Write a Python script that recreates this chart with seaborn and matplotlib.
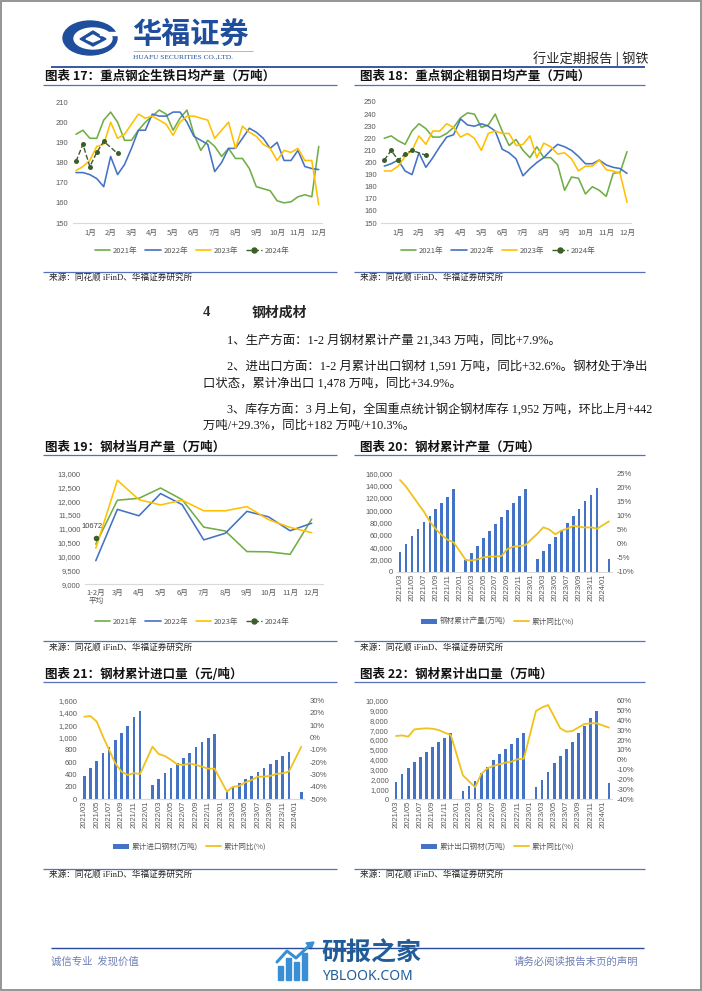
import numpy as np
import pandas as pd
import matplotlib
matplotlib.use("Agg")
import matplotlib.pyplot as plt
import seaborn as sns
from matplotlib.lines import Line2D
from matplotlib.patches import Patch, Ellipse, Polygon, Rectangle
from matplotlib.ticker import FuncFormatter

nan = np.nan

# ---------------- data ----------------
month_labels = ['1月', '2月', '3月', '4月', '5月', '6月', '7月', '8月', '9月', '10月', '11月', '12月']
year_labels = ['2021年', '2022年', '2023年', '2024年']

# chart 17: pig iron daily output of key steel mills (10-day data, 36 per year)
pig_2021 = [194, 196, 192, 192, 201, 205, 200, 191, 191, 196,
            200, 203, 206, 204, 196, 202, 206, 194, 186, 191,
            188, 183, 187, 182, 182, 177, 168, 167, 166, 161,
            160, 160.5, 163, 164, 163, 188]
pig_2022 = [175, 175, 174, 172, 168, 183, 174, 179, 187, 196,
            196, 204, 203, 203, 205, 205, 200, 193, 191, 189,
            175.5, 180, 187, 187, 192, 197, 195, 192, 187, 190,
            181, 181, 186, 178, 177, 176.5]
pig_2023 = [176, 178, 181, 188, 189, 200, 192, 194, 199, 204,
            202, 203, 201, 199, 193.5, 200, 203, 203, 202, 201,
            192, 196, 200, 187, 198, 195, 193, 189, 187, 181,
            186, 185, 187, 181, 181, 159]
pig_2024 = [180.5, 189, 178, 185, 190.5, nan, 184.5]

# chart 18: crude steel daily output
crude_2021 = [220, 222, 218, 215, 226, 232, 228, 221, 221, 224,
              229, 237, 241, 240, 229, 231, 240, 226, 214, 219,
              210, 204, 213, 204, 204, 198, 177, 188, 187, 174,
              180, 177, 172, 191, 192, 209]
crude_2022 = [197, 199, 202, 193, 190, 208, 196, 204, 213, 221,
              223, 236, 231, 230, 232, 230, 226, 211, 208, 203,
              189, 195, 200, 204, 210, 215, 213, 210, 205, 199,
              199, 202, 198, 196, 195, 191]
crude_2023 = [193, 193, 197, 205, 210, 222, 215, 226, 226, 232,
              229, 221, 224, 220, 210, 224, 226, 224, 224, 214,
              215, 222, 204, 216, 213, 207, 208, 203, 193, 197,
              197, 202, 194, 193, 191, 167]
crude_2024 = [202, 210, 202, 207, 210, nan, 206]

# chart 19: monthly steel products output
cats19 = ['1-2月\n平均', '3月', '4月', '5月', '6月', '7月', '8月', '9月', '10月', '11月', '12月']
mon_2021 = [10450, 12030, 12100, 12470, 12050, 11060, 10920, 10180, 10170, 10080, 11350]
mon_2022 = [9850, 11700, 11470, 12270, 11870, 10600, 10840, 11630, 11430, 10930, 11200]
mon_2023 = [10300, 12750, 12050, 11860, 12030, 11650, 11650, 11800, 11330, 11050, 10860]
mon_2024 = [10672]

# charts 20-22: cumulative monthly data 2021/03 - 2024/02
months = [f'{y}/{m:02d}' for y in (2021, 2022, 2023, 2024) for m in range(1, 13)][2:38]
cum_output = [32500, 45000, 57500, 69400, 80800, 91100, 101400, 112300, 122000, 133700,
              nan, 19732, 31000, 42300, 54200, 66700, 77600, 88400, 100300, 111700, 122600, 134000,
              nan, 20600, 33100, 45000, 55900, 67800, 79200, 90000, 102500, 114400, 125300, 136100,
              nan, 21343]
cum_output_yoy = [22.6, 20.3, 17.3, 14.3, 11.4, 7.8, 5.1, 3.0, 1.3, 0.4,
                  nan, -5.8, -6.0, -5.6, -4.9, -4.6, -4.6, -4.4, -1.9, -1.1, -0.9, -0.5,
                  nan, 3.5, 5.8, 5.0, 3.3, 4.6, 5.3, 6.3, 6.0, 5.7, 5.8, 5.3,
                  nan, 7.9]
cum_import = [380, 499, 618, 743, 841, 955, 1079, 1188, 1329, 1432,
              nan, 228, 331, 423, 510, 580, 667, 754, 841, 922, 993, 1063,
              nan, 119, 200, 255, 320, 374, 445, 510, 570, 635, 700, 770,
              nan, 113]
cum_import_yoy = [17.0, 17.5, 13.0, 1.0, -10.0, -21.0, -27.7, -30.4, -29.0, -29.6,
                  nan, -7.4, -13.4, -15.0, -18.2, -21.8, -22.3, -21.0, -22.3, -23.7, -25.3, -25.3,
                  nan, -44.0, -40.0, -39.4, -36.4, -34.5, -31.8, -31.8, -31.2, -29.6, -29.0, -27.7,
                  nan, -7.4]
cum_export = [1763, 2576, 3153, 3763, 4305, 4814, 5322, 5763, 6170, 6678,
              nan, 814, 1322, 1831, 2610, 3288, 3966, 4576, 5085, 5593, 6170, 6678,
              nan, 1220, 1966, 2780, 3627, 4373, 5085, 5831, 6678, 7424, 8203, 8983,
              nan, 1591]
cum_export_yoy = [24.1, 24.7, 23.4, 30.8, 31.5, 31.9, 31.5, 30.2, 27.5, 25.1,
                  nan, -16.0, -22.0, -28.0, -14.6, -8.8, -6.4, -4.7, -3.0, -2.0, 0.5, 1.0,
                  nan, 49.5, 53.2, 55.6, 43.7, 31.9, 28.5, 29.2, 32.9, 36.3, 37.0, 37.0,
                  nan, 32.6]

# ---------------- style ----------------
sns.set_theme(style="white")
plt.rcParams['font.family'] = ['Liberation Sans', 'Noto Sans CJK SC', 'DejaVu Sans']
CJK = ['Noto Sans CJK SC', 'DejaVu Sans']
SERIF = ['Liberation Serif', 'Noto Sans CJK SC', 'DejaVu Sans']

C21, C22, C23, C24 = '#70AD47', '#4472C4', '#FFC000', '#3B5E2B'
BAR = '#4472C4'
YOY = '#EFC21C'
TICK = '#595959'
NAVY = '#2A4B9B'

W, H = 702, 991
fig = plt.figure(figsize=(W / 100, H / 100), dpi=100)

bg = fig.add_axes([0, 0, 1, 1])
bg.set_xlim(0, W)
bg.set_ylim(H, 0)
bg.axis('off')


def ax_px(l, t, r, b):
    a = fig.add_axes([l / W, 1 - b / H, (r - l) / W, (b - t) / H])
    a.set_facecolor('none')
    return a


def hline(x0, x1, y, color, lw):
    bg.plot([x0, x1], [y, y], color=color, lw=lw, solid_capstyle='butt')


def style(ax):
    for s in ['top', 'right', 'left']:
        ax.spines[s].set_visible(False)
    ax.spines['bottom'].set_color('#D9D9D9')
    ax.spines['bottom'].set_linewidth(0.8)
    ax.tick_params(axis='both', length=0, labelsize=5.5, colors=TICK)
    ax.tick_params(axis='y', pad=3)
    ax.set_xlabel('')
    ax.set_ylabel('')
    ax.grid(False)


def legend_at(ax, handles, labels, x, y):
    ax.legend(handles, labels, loc='center', bbox_to_anchor=(x / W, 1 - y / H),
              bbox_transform=fig.transFigure, ncol=len(handles), frameon=False,
              handlelength=2.0, columnspacing=1.0, handletextpad=0.4,
              labelcolor=TICK, prop={'family': CJK, 'size': 5.5})


def chart_title(x, y, s):
    bg.text(x, y, s, fontsize=9, fontweight='bold', family=CJK, va='center', ha='left', color='#111111')


def source(x, y):
    bg.text(x, y, '来源：同花顺 iFinD、华福证券研究所', fontsize=6.2, family=SERIF,
            va='center', ha='left', color='#222222')


# ---------------- page decoration ----------------
bg.add_patch(Rectangle((1, 1), W - 2, H - 2.5, fill=False, ec='#8C8C8C', lw=1.3))
# logo
bg.add_patch(Ellipse((90, 38), 54, 34, color='#1F4E9C'))
bg.add_patch(Ellipse((93, 38.5), 38, 21, color='white'))
bg.add_patch(Polygon([(80, 39), (93, 31), (106, 39), (93, 46)], closed=True, color='#1F4E9C'))
bg.add_patch(Polygon([(86, 39), (93, 35), (100, 39), (93, 42)], closed=True, color='white'))
bg.add_patch(Rectangle((100, 31.5), 18, 3.5, color='white'))
bg.text(132, 34, '华福证券', fontsize=21, fontweight='bold', family=CJK, color='#1F4E9C',
        va='center', ha='left')
hline(133, 253, 50.5, '#9A9A9A', 0.5)
bg.text(133, 57, 'HUAFU SECURITIES CO.,LTD.', fontsize=5.3, family=['Liberation Serif'],
        color='#1F4E9C', va='center', ha='left')
bg.text(649, 59, '行业定期报告 | 钢铁', fontsize=9.5, family=CJK, color='#262626',
        va='center', ha='right')
hline(51, 645, 67, NAVY, 1.3)

# titles, underlines, sources
chart_title(45, 76, '图表 17：重点钢企生铁日均产量（万吨）')
chart_title(360, 76, '图表 18：重点钢企粗钢日均产量（万吨）')
chart_title(45, 447, '图表 19：钢材当月产量（万吨）')
chart_title(360, 447, '图表 20：钢材累计产量（万吨）')
chart_title(45, 674, '图表 21：钢材累计进口量（元/吨）')
chart_title(360, 674, '图表 22：钢材累计出口量（万吨）')
for y in (84.5, 455, 682):
    hline(43, 337, y, '#5572B8', 0.9)
    hline(354, 645, y, '#5572B8', 0.9)
for y in (271.5, 641, 869):
    hline(43, 337, y, '#5572B8', 0.9)
    hline(354, 645, y, '#5572B8', 0.9)
for y in (278.5, 648, 875.5):
    source(49, y)
    source(360, y)

# body text
bg.text(203, 313, '4', fontsize=10.5, fontweight='bold', family=SERIF, va='center', ha='left')
bg.text(252, 313, '钢材成材', fontsize=10, fontweight='bold', family=CJK, va='center', ha='left')
body = [
    (227, 340, 8.9, '1、生产方面：1-2 月钢材累计产量 21,343 万吨，同比+7.9%。'),
    (227, 366, 8.95, '2、进出口方面：1-2 月累计出口钢材 1,591 万吨，同比+32.6%。钢材处于净出'),
    (203, 384, 8.9, '口状态，累计净出口 1,478 万吨，同比+34.9%。'),
    (227, 409, 8.7, '3、库存方面：3 月上旬，全国重点统计钢企钢材库存 1,952 万吨，环比上月+442'),
    (203, 426, 8.9, '万吨/+29.3%，同比+182 万吨/+10.3%。'),
]
for x, y, fs, s in body:
    bg.text(x, y, s, fontsize=fs, family=SERIF, va='center', ha='left', color='#1A1A1A')

# footer
hline(51, 644, 948, NAVY, 1.0)
bg.text(51, 962, '诚信专业  发现价值', fontsize=7.5, family=CJK, color='#6F7DB5', va='center', ha='left')
bg.text(638, 962, '请务必阅读报告末页的声明', fontsize=7.5, family=CJK, color='#6F7DB5', va='center', ha='right')
# watermark
for x0, top in ((278, 966), (286, 958), (294, 962), (302, 953)):
    bg.add_patch(Rectangle((x0, top), 5, 980 - top, color='#3A8FD4'))
bg.plot([277, 287, 296, 311], [962, 951, 958, 944], color='#3A8FD4', lw=2.2)
bg.add_patch(Polygon([(306, 943), (314, 942), (311, 949)], closed=True, color='#3A8FD4'))
bg.text(321, 953, '研报之家', fontsize=18, fontweight='bold', family=CJK, color='#1F5C99',
        va='center', ha='left')
bg.text(322, 976.5, 'YBLOOK.COM', fontsize=10, family=['Noto Sans', 'DejaVu Sans'],
        color='#1F5C99', va='center', ha='left')


# ---------------- charts 17 / 18 ----------------
def tenday_chart(box, s21, s22, s23, s24, ylim, step, legend_xy):
    ax = ax_px(*box)
    rows = []
    for yr, vals in zip(year_labels, (s21, s22, s23, s24)):
        for i, v in enumerate(vals):
            rows.append((yr, i, v))
    df = pd.DataFrame(rows, columns=['year', 'idx', 'val']).dropna()
    pal = dict(zip(year_labels[:3], (C21, C22, C23)))
    sns.lineplot(data=df[df.year != '2024年'], x='idx', y='val', hue='year', palette=pal,
                 linewidth=1.15, legend=False, ax=ax)
    sns.lineplot(data=df[df.year == '2024年'], x='idx', y='val', color=C24, linestyle='--',
                 linewidth=1.0, marker='o', markersize=3.6, markeredgewidth=0, ax=ax)
    ax.set_xlim(-0.5, 35.5)
    ax.set_ylim(*ylim)
    ax.set_yticks(np.arange(ylim[0], ylim[1] + 1, step))
    ax.set_xticks(range(2, 36, 3))
    ax.set_xticklabels(month_labels, family=CJK)
    style(ax)
    ax.tick_params(axis='x', pad=4)
    handles = [Line2D([], [], color=C21, lw=1.2), Line2D([], [], color=C22, lw=1.2),
               Line2D([], [], color=C23, lw=1.2),
               Line2D([], [], color=C24, lw=1.0, ls='--', marker='o', markersize=3.6)]
    legend_at(ax, handles, year_labels, *legend_xy)
    return ax


tenday_chart((72.5, 102, 322.2, 223), pig_2021, pig_2022, pig_2023, pig_2024, (150, 210), 10, (192, 251))
tenday_chart((380.8, 102, 630.5, 223), crude_2021, crude_2022, crude_2023, crude_2024, (150, 250), 10, (498, 251))

# ---------------- chart 19 ----------------
ax19 = ax_px(85, 473.3, 322.5, 584.3)
rows = []
for yr, vals in zip(year_labels[:3], (mon_2021, mon_2022, mon_2023)):
    for i, v in enumerate(vals):
        rows.append((yr, i, v))
df19 = pd.DataFrame(rows, columns=['year', 'idx', 'val'])
sns.lineplot(data=df19, x='idx', y='val', hue='year',
             palette=dict(zip(year_labels[:3], (C21, C22, C23))), linewidth=1.15, legend=False, ax=ax19)
sns.scatterplot(x=list(range(len(mon_2024))), y=mon_2024, color=C24, s=16, linewidth=0, ax=ax19, zorder=5)
ax19.annotate(f'{mon_2024[0]}', xy=(0, mon_2024[0]), xytext=(-2.5, 8), textcoords='offset points',
              ha='center', va='center', fontsize=5.5, color='#404040')
ax19.set_xlim(-0.5, 10.5)
ax19.set_ylim(9000, 13000)
ax19.set_yticks(np.arange(9000, 13001, 500))
ax19.yaxis.set_major_formatter(FuncFormatter(lambda v, p: f'{v:,.0f}'))
ax19.set_xticks(range(len(cats19)))
ax19.set_xticklabels(cats19, family=CJK, linespacing=1.1)
style(ax19)
ax19.tick_params(axis='x', pad=3)
legend_at(ax19, [Line2D([], [], color=C21, lw=1.2), Line2D([], [], color=C22, lw=1.2),
                 Line2D([], [], color=C23, lw=1.2),
                 Line2D([], [], color=C24, lw=1.0, ls='--', marker='o', markersize=3.6)],
          year_labels, 192, 622)


# ---------------- charts 20-22 ----------------
def bar_line_chart(box, bars, yoy, lim_l, step_l, lim_r, step_r, bar_label, legend_xy):
    ax = ax_px(*box)
    dfb = pd.DataFrame({'month': months, 'val': bars}).dropna()
    sns.barplot(data=dfb, x='month', y='val', order=months, color=BAR, saturation=1,
                width=0.45, errorbar=None, linewidth=0, ax=ax)
    ax2 = ax.twinx()
    ax2.set_facecolor('none')
    dfl = pd.DataFrame({'idx': range(len(months)), 'yoy': yoy}).dropna()
    sns.lineplot(data=dfl, x='idx', y='yoy', color=YOY, linewidth=1.3, ax=ax2)
    ax.set_xlim(-0.5, len(months) - 0.5)
    ax.set_ylim(*lim_l)
    ax.set_yticks(np.arange(lim_l[0], lim_l[1] + 1, step_l))
    ax.yaxis.set_major_formatter(FuncFormatter(lambda v, p: f'{v:,.0f}'))
    ax2.set_ylim(*lim_r)
    ax2.set_yticks(np.arange(lim_r[0], lim_r[1] + 1, step_r))
    ax2.yaxis.set_major_formatter(FuncFormatter(lambda v, p: f'{v:.0f}%'))
    ax.set_xticks(range(0, len(months), 2))
    ax.set_xticklabels(months[::2], rotation=90)
    style(ax)
    style(ax2)
    ax2.spines['bottom'].set_visible(False)
    ax.tick_params(axis='x', pad=1.5)
    ax2.tick_params(axis='y', pad=3.5)
    handles = [Patch(color=BAR, linewidth=0), Line2D([], [], color=YOY, lw=1.3)]
    legend_at(ax2, handles, [bar_label, '累计同比(%)'], *legend_xy)
    return ax


bar_line_chart((397, 473.3, 612, 571.7), cum_output, cum_output_yoy, (0, 160000), 20000,
               (-10, 25), 5, '钢材累计产量(万吨)', (498, 622))
bar_line_chart((81.2, 700.7, 304.4, 799), cum_import, cum_import_yoy, (0, 1600), 200,
               (-50, 30), 10, '累计进口钢材(万吨)', (190, 847))
bar_line_chart((393, 700.7, 612, 799), cum_export, cum_export_yoy, (0, 10000), 1000,
               (-40, 60), 10, '累计出口钢材(万吨)', (498, 847))

fig.savefig('out.png', dpi=100)
